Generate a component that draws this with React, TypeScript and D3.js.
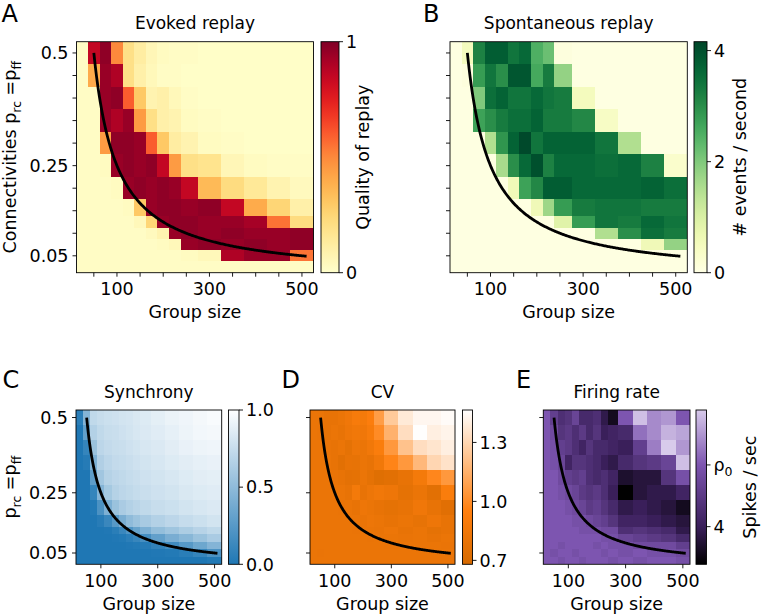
import React from "react";
import * as d3 from "d3";

// ---------- data ----------
const groupSizes = [25, 50, 75, 100, 125, 150, 175, 200, 225, 250, 300, 350, 400, 450, 500];
const connectivities = [0.5, 0.45, 0.4, 0.35, 0.3, 0.25, 0.2, 0.15, 0.125, 0.1, 0.075, 0.05, 0.025];

const xTicksAll = [50, 100, 150, 200, 250, 300, 350, 400, 450, 500];
const xTicksMajor = [100, 300, 500];
const yTicksAll = [0.05, 0.1, 0.15, 0.2, 0.25, 0.3, 0.35, 0.4, 0.45, 0.5];
const yTicksMajor = [0.05, 0.25, 0.5];
const yTickText = ["0.05", "0.25", "0.5"];

// black curve p = K / N
const curveK = 25;
const curveNStart = 50;
const curveNEnd = 510;

// A: quality of replay (0..1)
const evokedReplay = [
  [0.02, 0.85, 0.97, 0.5, 0.2, 0.12, 0.06, 0.03, 0.02, 0.02, 0.01, 0.01, 0.01, 0.01, 0.01],
  [0.02, 0.4, 0.95, 0.9, 0.2, 0.1, 0.05, 0.02, 0.02, 0.01, 0.01, 0.01, 0.01, 0.01, 0.01],
  [0.02, 0.02, 0.95, 0.97, 0.6, 0.3, 0.08, 0.1, 0.05, 0.02, 0.01, 0.01, 0.01, 0.01, 0.01],
  [0.02, 0.02, 0.95, 0.9, 0.95, 0.45, 0.2, 0.1, 0.08, 0.03, 0.02, 0.01, 0.01, 0.01, 0.01],
  [0.02, 0.02, 0.45, 0.97, 0.97, 0.95, 0.6, 0.3, 0.12, 0.08, 0.03, 0.02, 0.01, 0.01, 0.01],
  [0.02, 0.02, 0.03, 0.95, 0.97, 0.95, 0.97, 0.85, 0.45, 0.2, 0.18, 0.06, 0.03, 0.02, 0.02],
  [0.02, 0.02, 0.02, 0.03, 0.95, 0.97, 0.95, 0.97, 0.95, 0.85, 0.35, 0.22, 0.15, 0.08, 0.04],
  [0.02, 0.02, 0.02, 0.02, 0.03, 0.3, 0.95, 0.97, 0.97, 0.95, 0.97, 0.85, 0.4, 0.25, 0.1],
  [0.02, 0.02, 0.02, 0.02, 0.02, 0.05, 0.25, 0.95, 0.97, 0.97, 0.95, 0.95, 0.92, 0.55, 0.22],
  [0.02, 0.02, 0.02, 0.02, 0.02, 0.02, 0.04, 0.08, 0.95, 0.97, 0.95, 0.97, 0.95, 0.95, 0.97],
  [0.02, 0.02, 0.02, 0.02, 0.02, 0.02, 0.02, 0.03, 0.05, 0.95, 0.97, 0.95, 0.97, 0.95, 0.97],
  [0.02, 0.02, 0.02, 0.02, 0.02, 0.02, 0.02, 0.02, 0.02, 0.03, 0.05, 0.9, 0.95, 0.95, 0.55],
  [0.02, 0.02, 0.02, 0.02, 0.02, 0.02, 0.02, 0.02, 0.02, 0.02, 0.02, 0.02, 0.02, 0.02, 0.02],
];

// B: spontaneous replay events / second
const spontaneousReplay = [
  [0.05, 0.5, 3.2, 3.8, 3.8, 3.4, 3.6, 2.5, 2.2, 0.1, 0.05, 0.05, 0.05, 0.05, 0.05],
  [0.05, 0.1, 2.8, 3.4, 3.0, 3.9, 3.9, 2.6, 3.3, 1.8, 0.05, 0.05, 0.05, 0.05, 0.05],
  [0.05, 0.05, 2.0, 3.5, 3.7, 3.4, 3.4, 3.6, 3.4, 3.3, 0.5, 0.05, 0.05, 0.05, 0.05],
  [0.05, 0.05, 2.7, 3.0, 3.3, 3.5, 3.5, 3.7, 3.3, 3.3, 3.1, 0.4, 0.05, 0.05, 0.05],
  [0.05, 0.05, 0.05, 1.5, 2.9, 3.7, 4.1, 3.4, 3.7, 3.7, 3.7, 3.4, 1.5, 0.05, 0.05],
  [0.05, 0.05, 0.05, 0.05, 1.6, 3.0, 3.6, 4.0, 3.2, 3.6, 3.6, 3.5, 3.6, 3.2, 0.3],
  [0.05, 0.05, 0.05, 0.05, 0.05, 0.6, 2.7, 3.1, 3.8, 3.8, 3.6, 3.6, 3.6, 3.7, 3.5],
  [0.05, 0.05, 0.05, 0.05, 0.05, 0.05, 0.05, 0.6, 1.7, 2.8, 3.3, 3.4, 3.4, 3.3, 3.3],
  [0.05, 0.05, 0.05, 0.05, 0.05, 0.05, 0.05, 0.05, 0.05, 0.9, 2.8, 3.4, 3.3, 3.6, 3.4],
  [0.05, 0.05, 0.05, 0.05, 0.05, 0.05, 0.05, 0.05, 0.05, 0.05, 0.05, 1.5, 3.0, 3.5, 3.3],
  [0.05, 0.05, 0.05, 0.05, 0.05, 0.05, 0.05, 0.05, 0.05, 0.05, 0.05, 0.05, 0.05, 0.6, 1.8],
  [0.05, 0.05, 0.05, 0.05, 0.05, 0.05, 0.05, 0.05, 0.05, 0.05, 0.05, 0.05, 0.05, 0.05, 0.05],
  [0.05, 0.05, 0.05, 0.05, 0.05, 0.05, 0.05, 0.05, 0.05, 0.05, 0.05, 0.05, 0.05, 0.05, 0.05],
];

// C: synchrony (0..1)
const synchrony = [
  [0.05, 0.45, 0.72, 0.75, 0.77, 0.78, 0.8, 0.81, 0.83, 0.85, 0.88, 0.91, 0.93, 0.95, 0.97],
  [0.0, 0.3, 0.66, 0.72, 0.75, 0.76, 0.78, 0.8, 0.82, 0.84, 0.86, 0.89, 0.92, 0.94, 0.95],
  [0.0, 0.1, 0.55, 0.7, 0.73, 0.75, 0.76, 0.78, 0.8, 0.82, 0.84, 0.87, 0.9, 0.92, 0.93],
  [0.0, 0.03, 0.42, 0.65, 0.7, 0.73, 0.74, 0.76, 0.78, 0.8, 0.82, 0.85, 0.87, 0.89, 0.9],
  [0.0, 0.0, 0.28, 0.58, 0.67, 0.7, 0.72, 0.74, 0.76, 0.78, 0.8, 0.82, 0.85, 0.87, 0.88],
  [0.0, 0.0, 0.1, 0.45, 0.6, 0.67, 0.7, 0.72, 0.74, 0.76, 0.78, 0.8, 0.83, 0.85, 0.86],
  [0.0, 0.0, 0.02, 0.2, 0.42, 0.55, 0.62, 0.66, 0.69, 0.72, 0.75, 0.77, 0.8, 0.82, 0.84],
  [0.0, 0.0, 0.0, 0.04, 0.12, 0.25, 0.4, 0.5, 0.56, 0.61, 0.66, 0.7, 0.74, 0.77, 0.8],
  [0.0, 0.0, 0.0, 0.0, 0.01, 0.05, 0.12, 0.22, 0.32, 0.42, 0.52, 0.57, 0.63, 0.68, 0.72],
  [0.0, 0.0, 0.0, 0.0, 0.0, 0.01, 0.02, 0.06, 0.11, 0.17, 0.3, 0.4, 0.47, 0.55, 0.62],
  [0.0, 0.0, 0.0, 0.0, 0.0, 0.0, 0.0, 0.01, 0.02, 0.03, 0.08, 0.15, 0.25, 0.35, 0.45],
  [0.0, 0.0, 0.0, 0.0, 0.0, 0.0, 0.0, 0.0, 0.0, 0.0, 0.01, 0.02, 0.05, 0.1, 0.2],
  [0.0, 0.0, 0.0, 0.0, 0.0, 0.0, 0.0, 0.0, 0.0, 0.0, 0.0, 0.0, 0.0, 0.0, 0.02],
];

// D: CV
const cvValues = [
  [0.82, 0.82, 0.8, 0.8, 0.82, 0.85, 0.9, 0.88, 0.93, 1.07, 1.25, 1.38, 1.43, 1.43, 1.45],
  [0.82, 0.81, 0.8, 0.82, 0.8, 0.84, 0.86, 0.85, 0.9, 1.0, 1.15, 1.33, 1.46, 1.4, 1.42],
  [0.82, 0.82, 0.81, 0.8, 0.82, 0.78, 0.83, 0.82, 0.86, 0.92, 1.05, 1.22, 1.33, 1.36, 1.4],
  [0.82, 0.82, 0.82, 0.8, 0.76, 0.8, 0.79, 0.82, 0.8, 0.86, 0.97, 1.05, 1.18, 1.3, 1.35],
  [0.82, 0.82, 0.82, 0.81, 0.8, 0.77, 0.78, 0.82, 0.78, 0.74, 0.76, 0.8, 0.88, 0.98, 1.05],
  [0.82, 0.82, 0.82, 0.82, 0.82, 0.8, 0.88, 0.8, 0.83, 0.86, 0.84, 0.78, 0.82, 0.76, 0.92],
  [0.82, 0.82, 0.82, 0.82, 0.81, 0.82, 0.8, 0.84, 0.82, 0.8, 0.78, 0.8, 0.85, 0.8, 0.75],
  [0.82, 0.82, 0.82, 0.82, 0.82, 0.82, 0.82, 0.81, 0.83, 0.82, 0.8, 0.82, 0.79, 0.84, 0.8],
  [0.82, 0.82, 0.82, 0.82, 0.82, 0.82, 0.81, 0.82, 0.82, 0.81, 0.83, 0.8, 0.82, 0.78, 0.8],
  [0.82, 0.82, 0.82, 0.82, 0.82, 0.82, 0.82, 0.82, 0.81, 0.82, 0.82, 0.81, 0.82, 0.8, 0.82],
  [0.82, 0.82, 0.82, 0.82, 0.82, 0.82, 0.82, 0.82, 0.82, 0.82, 0.81, 0.82, 0.82, 0.82, 0.81],
  [0.82, 0.81, 0.82, 0.82, 0.82, 0.82, 0.82, 0.82, 0.82, 0.82, 0.82, 0.82, 0.82, 0.82, 0.82],
  [0.82, 0.82, 0.82, 0.82, 0.82, 0.82, 0.82, 0.82, 0.82, 0.82, 0.82, 0.82, 0.82, 0.82, 0.82],
];

// E: firing rate (spikes / sec)
const firingRate = [
  [5.0, 4.6, 4.3, 4.4, 4.7, 4.2, 4.2, 4.3, 3.9, 3.6, 5.0, 5.8, 5.4, 5.5, 5.0],
  [5.0, 4.8, 4.4, 4.5, 4.3, 4.5, 4.2, 4.4, 4.0, 4.1, 4.2, 5.2, 5.4, 5.7, 5.6],
  [5.0, 4.9, 4.6, 4.5, 4.3, 4.1, 4.4, 4.2, 4.2, 4.1, 4.0, 4.6, 5.3, 5.9, 5.5],
  [5.0, 4.9, 4.7, 4.1, 4.4, 4.4, 4.3, 4.2, 4.0, 3.9, 4.2, 4.4, 4.5, 4.7, 5.8],
  [5.0, 5.0, 4.8, 4.6, 4.5, 4.6, 4.3, 4.2, 4.3, 4.1, 3.7, 3.8, 3.8, 4.4, 4.9],
  [5.0, 5.0, 4.9, 4.8, 4.7, 4.5, 4.4, 4.5, 4.3, 4.0, 3.4, 3.8, 3.9, 3.9, 4.1],
  [5.0, 5.0, 5.0, 4.9, 4.8, 4.7, 4.5, 4.6, 4.4, 4.2, 3.9, 4.0, 3.9, 3.8, 3.6],
  [5.0, 5.0, 5.0, 5.0, 4.9, 4.9, 4.8, 4.7, 4.6, 4.4, 4.1, 4.1, 4.0, 3.9, 3.8],
  [5.0, 5.0, 5.0, 5.0, 5.0, 4.9, 4.9, 4.9, 4.8, 4.8, 4.3, 4.4, 4.3, 4.2, 3.9],
  [5.0, 5.0, 5.0, 5.0, 5.0, 5.0, 5.0, 5.0, 4.9, 4.9, 4.7, 4.6, 4.5, 4.4, 4.2],
  [5.0, 5.0, 4.9, 5.0, 5.0, 5.0, 5.0, 4.9, 5.0, 4.9, 4.9, 4.8, 4.8, 4.8, 4.6],
  [5.0, 4.9, 5.0, 5.0, 4.9, 5.0, 5.0, 5.0, 4.9, 5.0, 4.9, 5.0, 4.9, 4.9, 4.8],
  [5.0, 5.0, 4.9, 5.0, 5.0, 4.9, 5.0, 5.0, 5.0, 4.9, 5.0, 4.9, 5.0, 5.0, 4.9],
];

// ---------- helpers ----------
const FONT = "DejaVu Sans, Verdana, sans-serif";
const TICK_FS = 17.5;
const SUB_FS = 12.5;

function edges(c: number[]): number[] {
  const n = c.length;
  const e = [c[0] - (c[1] - c[0]) / 2];
  for (let i = 0; i < n - 1; i++) e.push((c[i] + c[i + 1]) / 2);
  e.push(c[n - 1] + (c[n - 1] - c[n - 2]) / 2);
  return e;
}
const xEdges = edges(groupSizes);
const yEdges = edges(connectivities);

type Tick = { v: number; label: React.ReactNode };

interface PanelCfg {
  letter: string;
  letterX: number;
  letterY: number;
  title: string;
  titleY: number;
  left: number;
  top: number;
  width: number;
  height: number;
  data: number[][];
  color: (v: number) => string;
  cbLeft: number;
  cbWidth: number;
  cbDomain: [number, number];
  cbTicks: Tick[];
  cbLabel?: string;
  cbLabelX?: number;
  xTicks: number[];
  yTicks: number[];
  yLabels: boolean;
  yLabel?: React.ReactNode;
  yLabelX?: number;
}

const subLabel = (prefix: string) => (
  <>
    {prefix}p
    <tspan fontSize={SUB_FS} dy={4.5}>rc</tspan>
    <tspan dy={-4.5}> =p</tspan>
    <tspan fontSize={SUB_FS} dy={4.5}>ff</tspan>
  </>
);

const cmapA = (v: number) => d3.interpolateYlOrRd(v);
const cmapB = (v: number) => d3.interpolateYlGn(v / 4.16);
const cmapC = d3.scaleLinear<string>().domain([0, 1]).range(["#1f77b4", "#ffffff"]).interpolate(d3.interpolateRgb);
const cmapD = d3
  .scaleLinear<string>()
  .domain([0.68, 0.95, 1.465])
  .range(["#d66a00", "#ff7f0e", "#ffffff"])
  .interpolate(d3.interpolateRgb)
  .clamp(true);
const cmapE = d3
  .scaleLinear<string>()
  .domain([3.39, 4.0, 5.0, 5.89])
  .range(["#000000", "#3a1f5a", "#7d55b0", "#d8cbeb"])
  .interpolate(d3.interpolateRgb)
  .clamp(true);

const bottomRowTop = 410;
const panels: PanelCfg[] = [
  {
    letter: "A", letterX: 1.5, letterY: 22, title: "Evoked replay", titleY: 29,
    left: 76.5, top: 41.7, width: 237, height: 231,
    data: evokedReplay, color: cmapA,
    cbLeft: 321, cbWidth: 18, cbDomain: [0, 1],
    cbTicks: [{ v: 0, label: "0" }, { v: 1, label: "1" }],
    cbLabel: "Quality of replay", cbLabelX: 368.5,
    xTicks: xTicksAll, yTicks: yTicksAll, yLabels: true,
    yLabel: subLabel("Connectivities "), yLabelX: 16,
  },
  {
    letter: "B", letterX: 423, letterY: 22, title: "Spontaneous replay", titleY: 29,
    left: 450, top: 41.7, width: 237.3, height: 231,
    data: spontaneousReplay, color: cmapB,
    cbLeft: 694, cbWidth: 13, cbDomain: [0, 4.16],
    cbTicks: [{ v: 0, label: "0" }, { v: 2, label: "2" }, { v: 4, label: "4" }],
    cbLabel: "# events / second", cbLabelX: 746,
    xTicks: xTicksAll, yTicks: yTicksAll, yLabels: false,
  },
  {
    letter: "C", letterX: 2.5, letterY: 387.5, title: "Synchrony", titleY: 397.5,
    left: 76, top: bottomRowTop, width: 145.7, height: 154.3,
    data: synchrony, color: (v) => cmapC(v),
    cbLeft: 228.5, cbWidth: 10.5, cbDomain: [0, 1],
    cbTicks: [{ v: 0, label: "0.0" }, { v: 0.5, label: "0.5" }, { v: 1, label: "1.0" }],
    xTicks: xTicksMajor, yTicks: yTicksMajor, yLabels: true,
    yLabel: subLabel(""), yLabelX: 16,
  },
  {
    letter: "D", letterX: 281.5, letterY: 387.5, title: "CV", titleY: 397.5,
    left: 310, top: bottomRowTop, width: 145, height: 154.3,
    data: cvValues, color: (v) => cmapD(v),
    cbLeft: 462.5, cbWidth: 10, cbDomain: [0.68, 1.465],
    cbTicks: [{ v: 0.7, label: "0.7" }, { v: 1.0, label: "1.0" }, { v: 1.3, label: "1.3" }],
    xTicks: xTicksMajor, yTicks: yTicksMajor, yLabels: false,
  },
  {
    letter: "E", letterX: 516, letterY: 387.5, title: "Firing rate", titleY: 397.5,
    left: 543.3, top: bottomRowTop, width: 146.7, height: 154.3,
    data: firingRate, color: (v) => cmapE(v),
    cbLeft: 696, cbWidth: 10.5, cbDomain: [3.39, 5.89],
    cbTicks: [
      { v: 4, label: "4" },
      { v: 5, label: (<>ρ<tspan fontSize={SUB_FS} dy={4.5}>0</tspan></>) },
    ],
    cbLabel: "Spikes / sec", cbLabelX: 756,
    xTicks: xTicksMajor, yTicks: yTicksMajor, yLabels: false,
  },
];

function Panel({ cfg, id }: { cfg: PanelCfg; id: string }) {
  const bottom = cfg.top + cfg.height;
  const right = cfg.left + cfg.width;
  const x = d3.scaleLinear().domain([xEdges[0], xEdges[xEdges.length - 1]]).range([cfg.left, right]);
  const y = d3.scaleLinear().domain([yEdges[yEdges.length - 1], yEdges[0]]).range([bottom, cfg.top]);
  const cb = d3.scaleLinear().domain(cfg.cbDomain).range([bottom, cfg.top]);

  const curveNs = d3.range(curveNStart, curveNEnd + 0.001, 2);
  const line = d3
    .line<number>()
    .x((n) => x(n))
    .y((n) => y(curveK / n))
    .curve(d3.curveLinear);

  const stops = d3.range(0, 1.0001, 1 / 60).map((t) => ({
    t,
    c: cfg.color(cfg.cbDomain[0] + t * (cfg.cbDomain[1] - cfg.cbDomain[0])),
  }));

  const cbRight = cfg.cbLeft + cfg.cbWidth;
  const clipId = `clip-${id}`;
  const gradId = `grad-${id}`;

  return (
    <g>
      <defs>
        <clipPath id={clipId}>
          <rect x={cfg.left} y={cfg.top} width={cfg.width} height={cfg.height} />
        </clipPath>
        <linearGradient id={gradId} x1="0" y1="1" x2="0" y2="0">
          {stops.map((s, i) => (
            <stop key={i} offset={s.t} stopColor={s.c} />
          ))}
        </linearGradient>
      </defs>

      {/* cells */}
      <g clipPath={`url(#${clipId})`} shapeRendering="crispEdges">
        {cfg.data.map((row, i) =>
          row.map((v, j) => {
            const x0 = x(xEdges[j]);
            const x1 = x(xEdges[j + 1]);
            const y0 = y(yEdges[i]);
            const y1 = y(yEdges[i + 1]);
            return (
              <rect
                key={`${i}-${j}`}
                x={x0}
                y={y0}
                width={x1 - x0}
                height={y1 - y0}
                fill={cfg.color(v)}
              />
            );
          })
        )}
      </g>

      {/* curve */}
      <path
        d={line(curveNs) || ""}
        fill="none"
        stroke="#000"
        strokeWidth={2.8}
        clipPath={`url(#${clipId})`}
      />

      {/* frame */}
      <rect x={cfg.left} y={cfg.top} width={cfg.width} height={cfg.height} fill="none" stroke="#000" strokeWidth={0.9} />

      {/* x ticks */}
      {cfg.xTicks.map((t) => (
        <line key={`xt${t}`} x1={x(t)} x2={x(t)} y1={bottom} y2={bottom + 4} stroke="#000" strokeWidth={0.9} />
      ))}
      {xTicksMajor.map((t) => (
        <text key={`xl${t}`} x={x(t)} y={bottom + 22.5} textAnchor="middle" fontSize={TICK_FS}>
          {t}
        </text>
      ))}
      <text x={(cfg.left + right) / 2} y={bottom + 45.5} textAnchor="middle" fontSize={TICK_FS}>
        Group size
      </text>

      {/* y ticks */}
      {cfg.yTicks.map((t) => (
        <line key={`yt${t}`} x1={cfg.left - 4} x2={cfg.left} y1={y(t)} y2={y(t)} stroke="#000" strokeWidth={0.9} />
      ))}
      {cfg.yLabels &&
        yTicksMajor.map((t, i) => (
          <text key={`yl${t}`} x={cfg.left - 8} y={y(t)} dy="0.36em" textAnchor="end" fontSize={TICK_FS}>
            {yTickText[i]}
          </text>
        ))}
      {cfg.yLabel && (
        <text
          transform={`translate(${cfg.yLabelX},${(cfg.top + bottom) / 2}) rotate(-90)`}
          textAnchor="middle"
          fontSize={TICK_FS}
        >
          {cfg.yLabel}
        </text>
      )}

      {/* title and letter */}
      <text x={(cfg.left + right) / 2} y={cfg.titleY} textAnchor="middle" fontSize={17}>
        {cfg.title}
      </text>
      <text x={cfg.letterX} y={cfg.letterY} fontSize={24}>
        {cfg.letter}
      </text>

      {/* colorbar */}
      <rect x={cfg.cbLeft} y={cfg.top} width={cfg.cbWidth} height={cfg.height} fill={`url(#${gradId})`} />
      <rect x={cfg.cbLeft} y={cfg.top} width={cfg.cbWidth} height={cfg.height} fill="none" stroke="#000" strokeWidth={0.9} />
      {cfg.cbTicks.map((t, i) => (
        <g key={`cb${i}`}>
          <line x1={cbRight} x2={cbRight + 4} y1={cb(t.v)} y2={cb(t.v)} stroke="#000" strokeWidth={0.9} />
          <text x={cbRight + 7} y={cb(t.v)} dy="0.36em" fontSize={TICK_FS}>
            {t.label}
          </text>
        </g>
      ))}
      {cfg.cbLabel && (
        <text
          transform={`translate(${cfg.cbLabelX},${(cfg.top + bottom) / 2}) rotate(-90)`}
          textAnchor="middle"
          fontSize={TICK_FS}
        >
          {cfg.cbLabel}
        </text>
      )}
    </g>
  );
}

export default function App() {
  return (
    <svg
      width={764}
      height={616}
      viewBox="0 0 764 616"
      style={{ position: "absolute", left: 0, top: 0, display: "block" }}
      fontFamily={FONT}
    >
      <rect x={0} y={0} width={764} height={616} fill="#ffffff" />
      {panels.map((p, i) => (
        <Panel key={i} cfg={p} id={`p${i}`} />
      ))}
    </svg>
  );
}
